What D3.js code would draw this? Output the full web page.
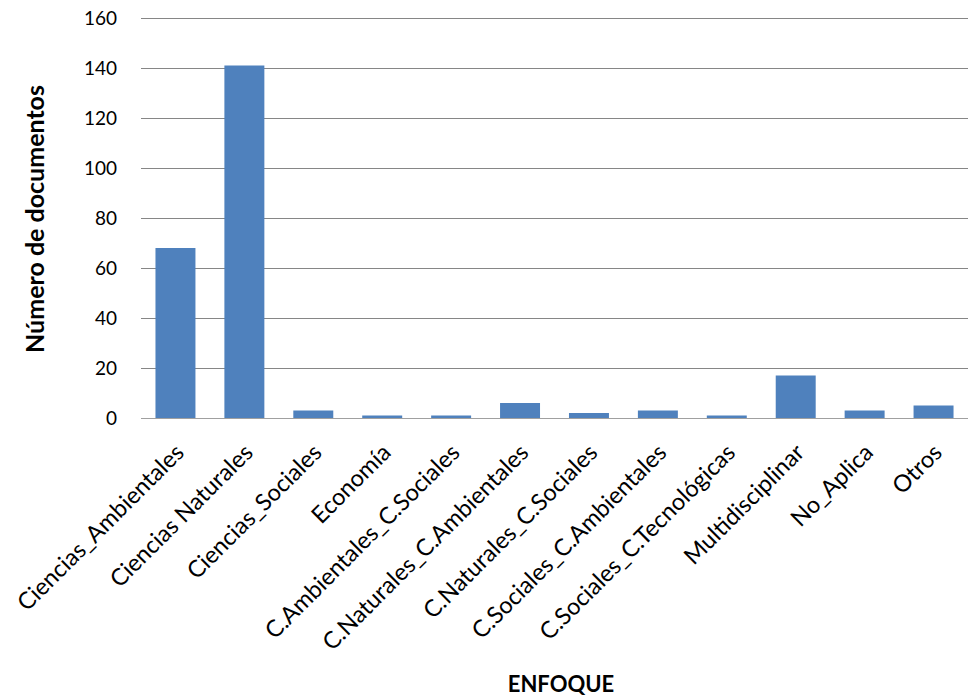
<!DOCTYPE html>
<html>
<head>
<meta charset="utf-8">
<script src="https://cdn.jsdelivr.net/npm/d3@7"></script>
<style>
body { margin: 0; background: #fff; }
text { font-family: Lato, "Open Sans", sans-serif; fill: #000; }
</style>
</head>
<body>
<svg width="973" height="698"></svg>
<script>
// categorias y valores
var categories = ['Ciencias_Ambientales', 'Ciencias Naturales', 'Ciencias_Sociales', 'Economía',
	'C.Ambientales_C.Sociales', 'C.Naturales_C.Ambientales', 'C.Naturales_C.Sociales',
	'C.Sociales_C.Ambientales', 'C.Sociales_C.Tecnológicas', 'Multidisciplinar', 'No_Aplica', 'Otros'];
var values = [68, 141, 3, 1, 1, 6, 2, 3, 1, 17, 3, 5];
var yTicks = [0, 20, 40, 60, 80, 100, 120, 140, 160];

var svg = d3.select('svg'),
	margin = {top: 18, right: 5, bottom: 280, left: 141},
	width = 973 - margin.left - margin.right,
	height = 698 - margin.top - margin.bottom,
	g = svg.append('g').attr('transform', 'translate(' + margin.left + ',' + margin.top + ')');

var x = d3.scaleBand()
	.domain(categories)
	.range([0, width])
	.paddingInner(0.42)
	.paddingOuter(0.21);

var y = d3.scaleLinear()
	.domain([0, 160])
	.range([height, 0]);

// lineas de division
g.append('g')
	.selectAll('line')
	.data(yTicks.slice(1))
	.enter().append('line')
	.attr('x1', 0)
	.attr('x2', width)
	.attr('y1', function(d) { return y(d) + 0.5; })
	.attr('y2', function(d) { return y(d) + 0.5; })
	.attr('stroke', '#868686')
	.attr('stroke-width', 1);

var yAxis = g.append('g')
	.call(d3.axisLeft(y).tickValues(yTicks).tickSize(0).tickPadding(24));
yAxis.select('.domain').remove();
yAxis.selectAll('text')
	.style('font-size', '19px')
	.style('font-family', 'Lato, sans-serif');

g.selectAll('.bar')
	.data(values)
	.enter().append('rect')
	.attr('class', 'bar')
	.attr('x', function(d, i) { return x(categories[i]); })
	.attr('y', function(d) { return y(d); })
	.attr('width', x.bandwidth())
	.attr('height', function(d) { return height - y(d); })
	.attr('fill', '#4F81BD');

// eje x
g.append('line')
	.attr('x1', 0)
	.attr('x2', width)
	.attr('y1', height + 0.5)
	.attr('y2', height + 0.5)
	.attr('stroke', '#a0a0a0')
	.attr('stroke-width', 1.2);

g.append('g')
	.selectAll('text')
	.data(categories)
	.enter().append('text')
	.attr('transform', function(d) {
		return 'translate(' + (x(d) + x.bandwidth() / 2 + 10) + ',' + (height + 36) + ') rotate(-45)';
	})
	.attr('text-anchor', 'end')
	.style('font-size', '23.5px')
	.text(function(d) { return d; });

svg.append('text')
	.attr('transform', 'translate(44,219) rotate(-90)')
	.attr('text-anchor', 'middle')
	.style('font-size', '25px')
	.style('font-weight', 'bold')
	.text('Número de documentos');

svg.append('text')
	.attr('x', 561)
	.attr('y', 692)
	.attr('text-anchor', 'middle')
	.style('font-size', '22px')
	.style('font-weight', 'bold')
	.text('ENFOQUE');
</script>
</body>
</html>
